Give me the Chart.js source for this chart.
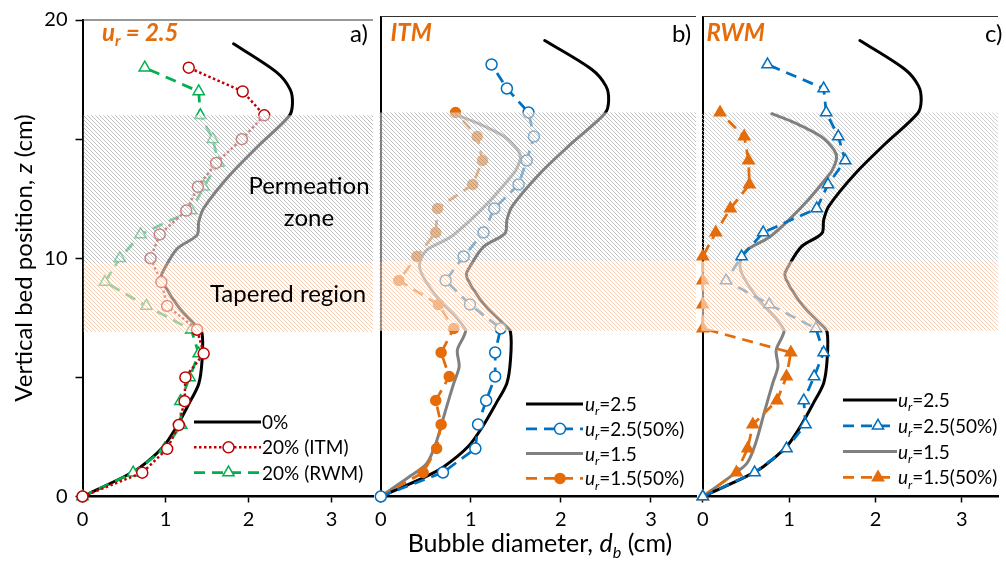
<!DOCTYPE html>
<html lang="en">
<head>
<meta charset="UTF-8">
<title>Bubble diameter along the bed</title>
<script src="https://cdn.jsdelivr.net/npm/chart.js"></script>
<style>
  body { margin: 0; background: #fff; }
  #wrap { position: relative; width: 1006px; height: 568px; overflow: hidden; }
  canvas { position: absolute; top: 0; }
</style>
</head>
<body>
<div id="wrap">
  <canvas id="panelA" width="381" height="568" style="left:0px"></canvas>
  <canvas id="panelB" width="333" height="568" style="left:370px"></canvas>
  <canvas id="panelC" width="314" height="568" style="left:692px"></canvas>
</div>
<script>
const FONT = 'Lato, "Noto Sans", sans-serif';
const ORANGE = '#E46C0A';

// measuring heights (cm)
const zPts = [0, 1, 2, 3, 4, 5, 6, 7, 8, 9, 10, 11, 12, 13, 14, 15, 16, 17, 18];

// bubble diameters (cm) at zPts
const dItm20 = [0, 0.72, 1.02, 1.16, 1.23, 1.24, 1.46, 1.38, 1.02, 0.95, 0.82, 0.93, 1.25, 1.39, 1.61, 1.92, 2.19, 1.93, 1.28];
const dRwm20 = [0, 0.61, 0.99, 1.19, 1.18, 1.29, 1.40, 1.31, 0.77, 0.27, 0.45, 0.70, 1.31, 1.46, 1.64, 1.57, 1.42, 1.40, 0.75];
const dItm25 = [0, 0.69, 1.05, 1.08, 1.17, 1.27, 1.27, 1.33, 0.99, 0.72, 0.92, 1.14, 1.26, 1.53, 1.62, 1.70, 1.64, 1.40, 1.23];
const dItm15 = [0, 0.47, 0.62, 0.67, 0.61, 0.76, 0.67, 0.81, 0.64, 0.20, 0.40, 0.61, 0.63, 1.02, 1.13, 1.07, 0.83];
const dRwm25 = [0, 0.60, 0.97, 1.19, 1.17, 1.29, 1.40, 1.31, 0.77, 0.27, 0.45, 0.70, 1.32, 1.45, 1.65, 1.57, 1.43, 1.40, 0.75];
const dRwm15 = [0, 0.39, 0.52, 0.58, 0.86, 0.97, 1.02, 0, 0, 0, 0, 0.15, 0.32, 0.54, 0.53, 0.48, 0.20];

// smooth profiles without insert
const zBase25 = [0, 0.83, 1.24, 2.08, 2.91, 3.88, 4.72, 5.69, 6.85, 7.2, 7.9, 8.74, 9.23, 9.58, 10.4, 10.97, 11.52, 12.1, 13.47, 14.72, 15.97, 16.5, 17.1, 17.8, 19.0];
const dBase25 = [0, 0.50, 0.70, 0.97, 1.13, 1.28, 1.40, 1.44, 1.44, 1.36, 1.17, 1.01, 0.95, 0.99, 1.14, 1.38, 1.40, 1.46, 1.77, 2.12, 2.49, 2.53, 2.50, 2.34, 1.82];
const zBase15 = [0, 0.83, 1.38, 2.2, 3.6, 4.72, 5.41, 6.1, 6.66, 6.94, 7.49, 8.19, 9.16, 9.7, 10.27, 10.8, 11.5, 12.35, 13.3, 13.6, 14.1, 14.44, 15.0, 15.55, 15.95];
const dBase15 = [0, 0.32, 0.51, 0.61, 0.72, 0.81, 0.87, 0.85, 0.92, 0.94, 0.83, 0.65, 0.47, 0.43, 0.51, 0.77, 0.99, 1.22, 1.44, 1.50, 1.55, 1.52, 1.37, 1.08, 0.80];

// shaded zones (cm)
const zoneTaper = [6.9, 9.8];
const zonePerm = [9.8, 16];

const xTicks = [0, 1, 2, 3];
const yTicks = [0, 5, 10, 15, 20];
const yLabels = ['0', '', '10', '', '20'];

// line styles
const stBase25 = { color: '#000', width: 3 };
const stBase15 = { color: '#808080', width: 3 };
const stItm20 = { color: '#C00000', width: 2.5, dash: [2.5, 2.5], marker: 'circle', r: 5.5, fill: '#fff' };
const stRwm20 = { color: '#00B050', width: 2.75, dash: [11, 7], marker: 'triangle', r: 6.5, fill: '#fff' };
const stItm25 = { color: '#0070C0', width: 2.75, dash: [11, 7], marker: 'circle', r: 5.5, fill: '#fff' };
const stItm15 = { color: ORANGE, width: 2.75, dash: [11, 7], marker: 'circle', r: 5, fill: ORANGE };
const stRwm25 = { color: '#0070C0', width: 2.75, dash: [11, 7], marker: 'triangle', r: 6.5, fill: '#fff' };
const stRwm15 = { color: ORANGE, width: 2.75, dash: [11, 7], marker: 'triangle', r: 6.5, fill: ORANGE };

const U = (rest, bold) => [{ t: 'u', i: 1, b: bold }, { t: 'r', i: 1, b: bold, sub: 1 }, { t: rest, i: bold, b: bold }];

function pairs(xs, zs) {
    return xs.map((x, i) => ({ x: x, y: zs[i] }));
}

function curve(xs, zs, st) {
    return {
        data: pairs(xs, zs), showLine: true, borderColor: st.color, borderWidth: st.width,
        pointRadius: 0, tension: 0.3, clip: false, borderCapStyle: 'round'
    };
}

function measured(xs, st) {
    return {
        data: pairs(xs, zPts), showLine: true, borderColor: st.color, borderWidth: st.width,
        borderDash: st.dash, tension: 0, pointStyle: st.marker, pointRadius: st.r,
        pointBackgroundColor: st.fill, pointBorderColor: st.color, pointBorderWidth: 1.5, clip: false
    };
}

function richText(ctx, parts, x, y, size, align) {
    const font = (p, s) => (p.i ? 'italic ' : '') + (p.b ? 'bold ' : '') + s + 'px ' + FONT;
    let w = 0;
    const runs = parts.map(p => {
        const s = p.sub ? size * 0.65 : size;
        ctx.font = font(p, s);
        const pw = ctx.measureText(p.t).width;
        w += pw;
        return { p, s, pw };
    });
    let cx = align === 'center' ? x - w / 2 : x;
    ctx.textAlign = 'left';
    ctx.textBaseline = 'alphabetic';
    runs.forEach(r => {
        ctx.font = font(r.p, r.s);
        ctx.fillText(r.p.t, cx, y + (r.p.sub ? size * 0.22 : 0));
        cx += r.pw;
    });
}

function drawMarker(ctx, st, x, y) {
    const r = st.r;
    ctx.beginPath();
    if (st.marker === 'triangle') {
        for (let k = 0; k < 3; k++) {
            const ang = k * 2 * Math.PI / 3;
            const px = x + Math.sin(ang) * r, py = y - Math.cos(ang) * r;
            if (k) ctx.lineTo(px, py); else ctx.moveTo(px, py);
        }
        ctx.closePath();
    } else {
        ctx.arc(x, y, r, 0, Math.PI * 2);
    }
    ctx.fillStyle = st.fill;
    ctx.fill();
    ctx.lineWidth = 1.5;
    ctx.strokeStyle = st.color;
    ctx.stroke();
}

function drawLegend(ctx, lg) {
    lg.items.forEach((it, i) => {
        const y = lg.y0 + i * lg.dy, st = it.style;
        ctx.save();
        ctx.strokeStyle = st.color;
        ctx.lineWidth = st.width;
        ctx.setLineDash(st.dash || []);
        ctx.beginPath();
        ctx.moveTo(lg.x1, y);
        ctx.lineTo(lg.x2, y);
        ctx.stroke();
        ctx.setLineDash([]);
        if (st.marker) drawMarker(ctx, st, lg.mx, y);
        ctx.fillStyle = '#000';
        richText(ctx, it.parts, lg.tx, y + 7, 19, 'left');
        ctx.restore();
    });
}

// small tile with one "\" stroke, repeated as a fill pattern
function hatchPattern(ctx, color, step) {
    const c = document.createElement('canvas');
    c.width = step;
    c.height = step;
    const g = c.getContext('2d');
    g.strokeStyle = color;
    g.lineWidth = 1;
    g.beginPath();
    g.moveTo(-1, -1);
    g.lineTo(step + 1, step + 1);
    g.moveTo(-1, step - 1);
    g.lineTo(1, step + 1);
    g.moveTo(step - 1, -1);
    g.lineTo(step + 1, 1);
    g.stroke();
    return ctx.createPattern(c, 'repeat');
}

function hatch(chart, cfg, zone, lineColor, veil) {
    const ctx = chart.ctx, a = chart.chartArea, y = chart.scales.y;
    const top = y.getPixelForValue(zone[1]), bot = y.getPixelForValue(zone[0]);
    const L = a.left + (cfg.keepAxis ? 1.2 : -1.5);
    ctx.save();
    if (veil) {
        ctx.fillStyle = veil;
        ctx.fillRect(L, top, a.right - L, bot - top);
    }
    ctx.fillStyle = hatchPattern(ctx, lineColor, 4);
    ctx.fillRect(L, top, a.right - L, bot - top);
    ctx.restore();
}

function panelPlugin(cfg) {
    return {
        id: 'panel' + cfg.name,
        beforeDatasetsDraw(chart) {
            if (cfg.permBehind) hatch(chart, cfg, zonePerm, 'rgba(195,195,195,0.8)', null);
        },
        afterDatasetsDraw(chart) {
            if (!cfg.permBehind) hatch(chart, cfg, zonePerm, 'rgba(130,130,130,0.5)', 'rgba(255,255,255,0.5)');
            hatch(chart, cfg, zoneTaper, 'rgba(240,160,105,0.5)', 'rgba(255,255,255,0.55)');
        },
        afterDraw(chart) {
            const ctx = chart.ctx, a = chart.chartArea;
            ctx.save();
            ctx.strokeStyle = '#333';
            ctx.lineWidth = 1.2;
            ctx.beginPath();
            ctx.moveTo(a.left, a.top);
            ctx.lineTo(a.right, a.top);
            ctx.stroke();
            ctx.translate(-cfg.offX, 0);
            cfg.texts.forEach(t => {
                ctx.fillStyle = t.color || '#000';
                richText(ctx, t.parts, t.x, t.y, t.size, t.align || 'left');
            });
            drawLegend(ctx, cfg.legend);
            if (cfg.extra) cfg.extra(ctx);
            ctx.restore();
        }
    };
}

function scales(xMax, withY) {
    const x = {
        type: 'linear', min: 0, max: xMax,
        afterBuildTicks: s => { s.ticks = xTicks.map(v => ({ value: v })); },
        afterFit: s => { s.height = 568 - 496.5; },
        ticks: { color: '#000', font: { family: FONT, size: 20 }, padding: 5, maxRotation: 0, autoSkip: false },
        grid: { drawOnChartArea: false, tickLength: 6, tickColor: '#000', tickWidth: 1.5 },
        border: { color: '#000', width: 2.5 }
    };
    const y = withY ? {
        type: 'linear', min: 0, max: 20,
        afterBuildTicks: s => { s.ticks = yTicks.map(v => ({ value: v })); },
        afterFit: s => { s.width = 82.5; },
        ticks: { color: '#000', font: { family: FONT, size: 20 }, padding: 8, callback: (v, i) => yLabels[i] },
        grid: { drawOnChartArea: false, tickLength: 7, tickColor: '#000', tickWidth: 1.5 },
        border: { color: '#000', width: 2 }
    } : {
        type: 'linear', min: 0, max: 20,
        afterFit: s => { s.width = 10; },
        ticks: { display: false },
        grid: { display: false },
        border: { color: '#000', width: 2 }
    };
    return { x, y };
}

function makePanel(id, offX, xMax, withY, datasets, cfg) {
    cfg.offX = offX;
    return new Chart(document.getElementById(id), {
        type: 'scatter',
        data: { datasets: datasets },
        options: {
            responsive: false, animation: false, events: [],
            layout: { padding: { top: 16.5, left: 0, right: 0, bottom: 0 } },
            scales: scales(xMax, withY),
            plugins: { legend: { display: false }, tooltip: { enabled: false } }
        },
        plugins: [panelPlugin(cfg)]
    });
}

// panel a)
makePanel('panelA', 0, 3.5, true, [
    measured(dItm20, stItm20),
    measured(dRwm20, stRwm20),
    curve(dBase25, zBase25, stBase25)
], {
    name: 'A', keepAxis: true,
    texts: [
        { parts: U(' = 2.5', 1), x: 102, y: 41, size: 24, color: ORANGE },
        { parts: [{ t: 'a)' }], x: 350, y: 42, size: 24 },
        { parts: [{ t: 'Permeation' }], x: 309, y: 194, size: 24, align: 'center' },
        { parts: [{ t: 'zone' }], x: 309, y: 226, size: 24, align: 'center' },
        { parts: [{ t: 'Tapered region' }], x: 288, y: 302, size: 24, align: 'center' }
    ],
    legend: {
        x1: 194, x2: 261, mx: 228.5, tx: 262, y0: 422, dy: 25.3,
        items: [
            { style: stBase25, parts: [{ t: '0%' }] },
            { style: stItm20, parts: [{ t: '20% (ITM)' }] },
            { style: stRwm20, parts: [{ t: '20% (RWM)' }] }
        ]
    },
    extra: ctx => {
        ctx.save();
        ctx.translate(32, 258);
        ctx.rotate(-Math.PI / 2);
        ctx.fillStyle = '#000';
        richText(ctx, [{ t: 'Vertical bed position, ' }, { t: 'z', i: 1 }, { t: ' (cm)' }], 0, 0, 24, 'center');
        ctx.restore();
    }
});

// panel b)
makePanel('panelB', 370, 3.5, false, [
    measured(dItm25, stItm25),
    measured(dItm15, stItm15),
    curve(dBase25, zBase25, stBase25),
    curve(dBase15, zBase15, stBase15)
], {
    name: 'B',
    texts: [
        { parts: [{ t: 'ITM', i: 1, b: 1 }], x: 390.5, y: 41, size: 24, color: ORANGE },
        { parts: [{ t: 'b)' }], x: 672, y: 42, size: 24 },
        { parts: [{ t: 'Bubble diameter, ' }, { t: 'd', i: 1 }, { t: 'b', i: 1, sub: 1 }, { t: ' (cm)' }], x: 540, y: 552, size: 25, align: 'center' }
    ],
    legend: {
        x1: 526, x2: 583, mx: 560, tx: 585, y0: 404, dy: 24.8,
        items: [
            { style: stBase25, parts: U('=2.5') },
            { style: stItm25, parts: U('=2.5(50%)') },
            { style: stBase15, parts: U('=1.5') },
            { style: stItm15, parts: U('=1.5(50%)') }
        ]
    }
});

// panel c)
makePanel('panelC', 692, 3.42, false, [
    measured(dRwm25, stRwm25),
    measured(dRwm15, stRwm15),
    curve(dBase25, zBase25, stBase25),
    curve(dBase15, zBase15, stBase15)
], {
    name: 'C', permBehind: true,
    texts: [
        { parts: [{ t: 'RWM', i: 1, b: 1 }], x: 706.5, y: 41, size: 24, color: ORANGE },
        { parts: [{ t: 'c)' }], x: 985, y: 42, size: 24 }
    ],
    legend: {
        x1: 843, x2: 897, mx: 878, tx: 898, y0: 400, dy: 25.8,
        items: [
            { style: stBase25, parts: U('=2.5') },
            { style: stRwm25, parts: U('=2.5(50%)') },
            { style: stBase15, parts: U('=1.5') },
            { style: stRwm15, parts: U('=1.5(50%)') }
        ]
    }
});
</script>
</body>
</html>
